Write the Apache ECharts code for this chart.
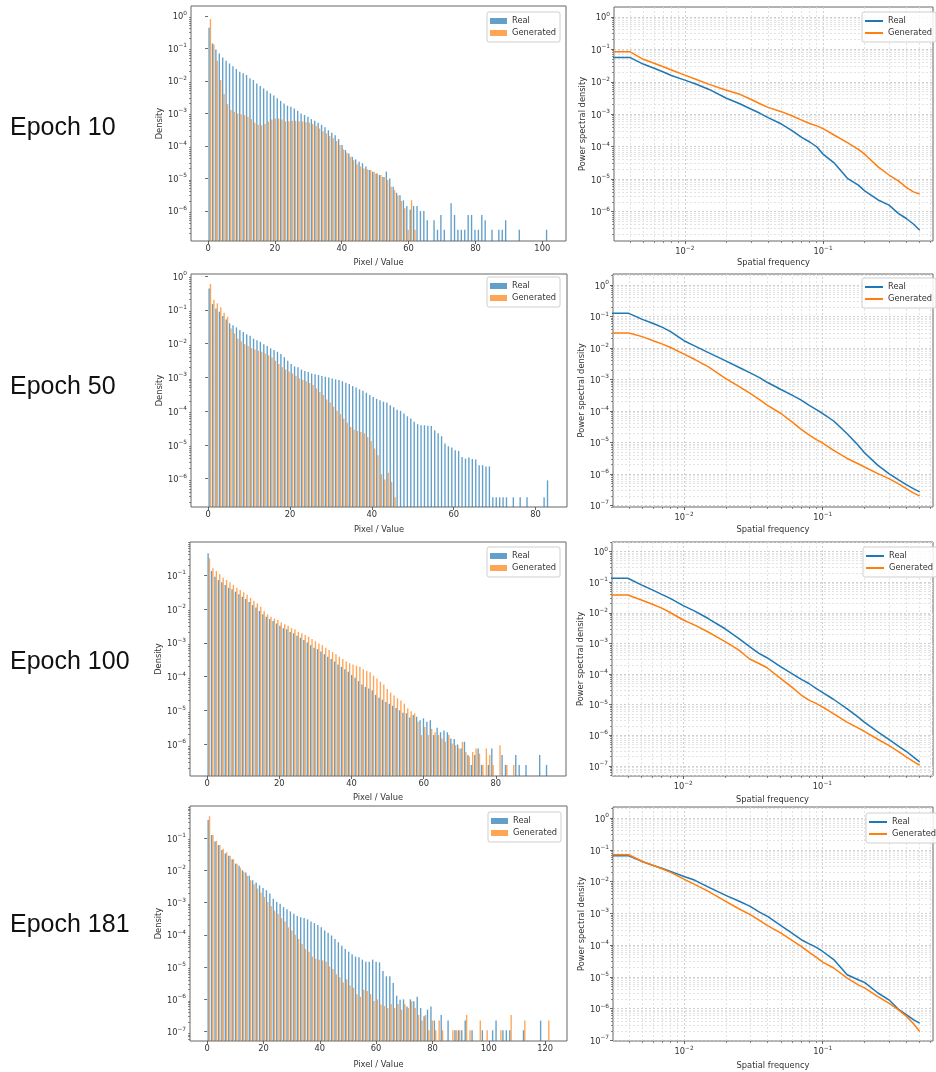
<!DOCTYPE html>
<html><head><meta charset="utf-8">
<script src="https://cdn.jsdelivr.net/npm/echarts@6/dist/echarts.min.js"></script>
<style>html,body{margin:0;padding:0;background:#fff}#c{width:936px;height:1072px}</style>
</head><body><div id="c"></div>
<script>
// ---------------- DATA ----------------
const epochLabels = ['Epoch 10', 'Epoch 50', 'Epoch 100', 'Epoch 181'];
const seriesNames = ['Real', 'Generated'];
// histogram: 100 bins starting at 0, upper edge of the binned range
const histRangeMax = [102, 83.5, 94.7, 121.7];
const histTicks = [[0, 20, 40, 60, 80, 100], [0, 20, 40, 60, 80], [0, 20, 40, 60, 80], [0, 20, 40, 60, 80, 100, 120]];

const histReal10 = [4.3e-1,1.4e-1,9.2e-2,6.9e-2,5.2e-2,4.1e-2,3.4e-2,2.8e-2,2.3e-2,1.9e-2,
 1.7e-2,1.5e-2,1.2e-2,1.05e-2,8.3e-3,6.9e-3,5.8e-3,4.9e-3,4.1e-3,3.5e-3,
 2.9e-3,2.4e-3,2.0e-3,1.7e-3,1.6e-3,1.4e-3,1.2e-3,9.8e-4,8.8e-4,7.8e-4,
 6.6e-4,5.9e-4,5.1e-4,4.4e-4,3.7e-4,3.0e-4,2.5e-4,2.1e-4,1.6e-4,1.05e-4,
 7.4e-5,5.8e-5,4.6e-5,3.8e-5,3.2e-5,2.9e-5,2.3e-5,1.8e-5,1.6e-5,1.4e-5,
 1.25e-5,1.1e-5,1.6e-5,9.8e-6,5.5e-6,3.6e-6,3.0e-6,2.1e-6,1.4e-6,1.1e-6,
 1.4e-6,1.4e-6,9.8e-7,9.8e-7,5.1e-7,0,5.1e-7,2.6e-7,7.4e-7,2.6e-7,
 0,1.7e-6,7.4e-7,2.6e-7,2.6e-7,2.6e-7,7.4e-7,7.4e-7,2.6e-7,2.6e-7,
 7.4e-7,5.1e-7,0,2.6e-7,0,2.6e-7,2.6e-7,5.1e-7,0,0,
 0,2.6e-7,0,0,0,0,0,0,0,2.6e-7];
const histGen10 = [7.9e-1,1.3e-1,4.1e-2,1.05e-2,3.9e-3,1.9e-3,1.25e-3,1.12e-3,9.9e-4,9.4e-4,
 8.8e-4,7.8e-4,6.6e-4,5.1e-4,4.4e-4,4.3e-4,4.7e-4,5.5e-4,6.4e-4,6.9e-4,
 6.9e-4,6.4e-4,5.6e-4,5.7e-4,5.9e-4,5.9e-4,5.7e-4,5.6e-4,5.3e-4,5.1e-4,
 4.7e-4,4.1e-4,3.4e-4,2.8e-4,2.4e-4,2.0e-4,1.7e-4,1.4e-4,1.05e-4,7.7e-5,
 6.1e-5,4.6e-5,3.6e-5,2.7e-5,2.3e-5,2.0e-5,1.9e-5,1.8e-5,1.6e-5,1.4e-5,
 1.25e-5,1.1e-5,8.8e-6,5.5e-6,4.3e-6,3.0e-6,2.0e-6,1.2e-6,2.6e-7,2.1e-6,
 2.6e-7,0,0,0,0,0,0,0,0,0,
 0,0,0,0,0,0,0,0,0,0,
 0,0,0,0,0,0,0,0,0,0,
 0,0,0,0,0,0,0,0,0,0];

const histReal50 = [0.43,0.148,0.11,0.088,0.065,0.052,0.040,0.035,0.030,0.025,
 0.022,0.019,0.017,0.014,0.0126,0.0113,0.0096,0.0084,0.0072,0.0064,
 0.0057,0.0049,0.0039,0.0031,0.0025,0.0021,0.0020,0.0017,0.00155,0.00145,
 0.0013,0.00124,0.00117,0.0011,0.00104,9.9e-4,9.3e-4,8.7e-4,8.3e-4,7.7e-4,
 6.9e-4,6.3e-4,5.5e-4,5.0e-4,4.4e-4,4.0e-4,3.5e-4,3.0e-4,2.6e-4,2.3e-4,
 2.1e-4,1.9e-4,1.8e-4,1.5e-4,1.3e-4,1.1e-4,1.02e-4,8.5e-5,7.0e-5,6.0e-5,
 4.8e-5,4.1e-5,3.8e-5,3.8e-5,3.7e-5,3.6e-5,2.7e-5,2.2e-5,1.8e-5,1.1e-5,
 9.1e-6,8.3e-6,6.9e-6,6.6e-6,4.4e-6,3.9e-6,4.2e-6,3.8e-6,3.7e-6,2.5e-6,
 2.5e-6,2.3e-6,2.3e-6,2.8e-7,2.8e-7,2.8e-7,2.8e-7,2.8e-7,0,2.8e-7,
 0,2.8e-7,0,2.8e-7,0,0,0,0,2.8e-7,8.9e-7];
const histGen50 = [0.58,0.20,0.155,0.118,0.082,0.062,0.028,0.020,0.0142,0.0118,
 0.0096,0.0084,0.0074,0.0067,0.0061,0.0057,0.0051,0.0045,0.0039,0.0031,
 0.0025,0.0020,0.0017,0.0015,0.0013,0.0011,9.3e-4,8.3e-4,7.6e-4,6.8e-4,
 5.9e-4,4.7e-4,3.7e-4,3.0e-4,2.2e-4,1.8e-4,1.35e-4,1.02e-4,8.1e-5,6.0e-5,
 4.5e-5,3.4e-5,2.8e-5,2.6e-5,2.4e-5,2.2e-5,1.7e-5,1.3e-5,7.8e-6,4.9e-6,
 1.35e-6,9.4e-7,1.5e-6,8.0e-7,2.8e-7,0,0,0,0,0,
 0,0,0,0,0,0,0,0,0,0,
 0,0,0,0,0,0,0,0,0,0,
 0,0,0,0,0,0,0,0,0,0,
 0,0,0,0,0,0,0,0,0,0];

const histReal100 = [0.44,0.131,0.089,0.071,0.061,0.051,0.042,0.038,0.032,0.027,
 0.023,0.0195,0.016,0.013,0.011,0.0087,0.0069,0.0059,0.0050,0.0044,
 0.0037,0.0032,0.0027,0.0025,0.0021,0.0019,0.00162,0.00141,0.0012,0.00102,
 8.5e-4,7.1e-4,6.5e-4,5.5e-4,4.6e-4,3.9e-4,3.3e-4,2.8e-4,2.3e-4,1.95e-4,
 1.66e-4,1.4e-4,1.12e-4,9.3e-5,7.4e-5,5.9e-5,5.0e-5,4.5e-5,4.0e-5,2.9e-5,
 2.4e-5,2.1e-5,1.8e-5,1.6e-5,1.4e-5,1.2e-5,1.02e-5,8.7e-6,8.3e-6,6.2e-6,
 7.4e-6,6.6e-6,5.2e-6,5.9e-6,4.7e-6,5.2e-6,1.9e-6,3.1e-6,2.3e-6,2.6e-6,
 2.3e-6,1.5e-6,1.45e-6,1.0e-6,7.6e-7,1.2e-6,4.9e-7,2.5e-7,4.9e-7,7.6e-7,
 2.5e-7,0,2.5e-7,7.6e-7,0,0,4.9e-7,2.5e-7,0,0,
 4.9e-7,2.5e-7,0,2.5e-7,0,0,0,4.9e-7,0,2.5e-7];
const histGen100 = [0.31,0.158,0.131,0.105,0.083,0.071,0.061,0.051,0.042,0.036,
 0.031,0.026,0.021,0.0175,0.0145,0.0116,0.0087,0.0069,0.0059,0.0052,
 0.0047,0.0040,0.0035,0.0032,0.0027,0.0025,0.0021,0.0019,0.0017,0.00151,
 0.00129,0.00112,9.6e-4,8.5e-4,7.1e-4,6.1e-4,5.3e-4,4.6e-4,3.9e-4,3.3e-4,
 2.8e-4,2.5e-4,2.3e-4,2.1e-4,1.95e-4,1.66e-4,1.47e-4,1.35e-4,1.07e-4,8.9e-5,
 7.1e-5,5.9e-5,4.3e-5,3.4e-5,2.8e-5,2.3e-5,2.0e-5,1.6e-5,1.15e-5,9.5e-6,
 8.3e-6,4.7e-6,1.9e-6,3.3e-6,1.9e-6,2.9e-6,2.3e-6,1.9e-6,1.5e-6,1.2e-6,
 1.9e-6,1.07e-6,9.5e-7,7.6e-7,1.2e-6,6.0e-7,4.4e-7,6.0e-7,7.6e-7,5.4e-7,
 2.5e-7,7.6e-7,4.9e-7,2.5e-7,0,9.5e-7,0,2.5e-7,0,2.5e-7,
 0,0,0,0,0,0,0,0,0,0];

const histReal181 = [0.36,0.123,0.077,0.060,0.042,0.033,0.028,0.022,0.016,0.0138,
 0.0100,0.0085,0.0067,0.0049,0.0042,0.0034,0.0028,0.0024,0.0019,0.00132,
 0.00103,9.1e-4,7.2e-4,6.2e-4,5.3e-4,4.5e-4,3.8e-4,3.5e-4,3.3e-4,3.0e-4,
 2.6e-4,2.3e-4,2.0e-4,1.7e-4,1.35e-4,1.15e-4,9.5e-5,7.4e-5,5.9e-5,4.6e-5,
 3.6e-5,3.0e-5,2.5e-5,2.1e-5,2.0e-5,1.7e-5,1.45e-5,1.45e-5,1.7e-5,1.45e-5,
 1.4e-5,7.6e-6,5.2e-6,5.2e-6,3.2e-6,1.3e-6,9.8e-7,1.0e-6,6.0e-7,1.0e-6,
 8.7e-7,1.2e-6,5.4e-7,3.0e-7,4.8e-7,6.0e-7,2.2e-7,0,3.3e-7,0,
 2.2e-7,0,1.1e-7,1.1e-7,1.1e-7,2.2e-7,0,1.1e-7,0,0,
 1.1e-7,0,0,1.1e-7,2.2e-7,0,1.1e-7,1.1e-7,1.1e-7,0,
 0,0,1.1e-7,0,0,0,0,2.2e-7,0,0];
const histGen181 = [0.47,0.123,0.081,0.060,0.046,0.036,0.028,0.022,0.016,0.0119,
 0.0089,0.0067,0.0049,0.0036,0.0027,0.0020,0.00149,0.00103,7.7e-4,5.6e-4,
 4.5e-4,3.3e-4,2.6e-4,1.7e-4,1.35e-4,1.0e-4,7.4e-5,5.2e-5,3.6e-5,3.0e-5,
 2.1e-5,1.8e-5,1.7e-5,1.6e-5,1.45e-5,1.05e-5,8.7e-6,6.0e-6,4.8e-6,3.3e-6,
 4.2e-6,2.7e-6,2.3e-6,1.45e-6,1.2e-6,2.0e-6,1.8e-6,1.45e-6,8.9e-7,1.0e-6,
 6.9e-7,6.2e-7,5.4e-7,7.2e-7,5.4e-7,7.2e-7,4.8e-7,7.2e-7,5.4e-7,8.7e-7,
 5.4e-7,3.3e-7,2.2e-7,3.3e-7,1.1e-7,2.2e-7,1.1e-7,2.2e-7,1.1e-7,0,
 0,1.1e-7,1.1e-7,1.1e-7,0,3.3e-7,1.1e-7,0,0,2.2e-7,
 0,1.1e-7,0,0,0,1.1e-7,0,0,3.3e-7,0,
 0,0,2.2e-7,0,0,0,0,0,0,2.2e-7];

// power spectral density curves
const psdFreq = [0.003,0.004,0.005,0.006,0.007,0.008,0.01,0.012,0.015,0.02,
 0.025,0.03,0.035,0.04,0.05,0.06,0.07,0.08,0.09,0.1,
 0.12,0.15,0.18,0.2,0.25,0.3,0.35,0.4,0.45,0.5];
const psdReal10 = [0.056,0.056,0.035,0.026,0.020,0.0156,0.0112,0.0085,0.0058,0.0031,
 0.0021,0.00145,0.00107,7.9e-4,5.0e-4,3.1e-4,1.95e-4,1.4e-4,1.0e-4,5.9e-5,
 3.2e-5,1.07e-5,6.6e-6,4.4e-6,2.3e-6,1.6e-6,8.9e-7,6.2e-7,4.2e-7,2.7e-7];
const psdGen10 = [0.084,0.084,0.049,0.037,0.029,0.023,0.016,0.012,0.0083,0.0055,
 0.0041,0.0029,0.0021,0.00163,0.0012,8.8e-4,6.6e-4,5.2e-4,4.4e-4,3.6e-4,
 2.3e-4,1.33e-4,8.3e-5,5.9e-5,2.4e-5,1.35e-5,8.9e-6,5.6e-6,4.1e-6,3.5e-6];
const psdReal50 = [0.126,0.126,0.081,0.060,0.045,0.033,0.017,0.0115,0.0071,0.0039,
 0.0024,0.00162,0.00115,8.0e-4,4.8e-4,3.2e-4,2.2e-4,1.5e-4,1.1e-4,8.3e-5,
 4.8e-5,1.9e-5,8.1e-6,4.7e-6,1.87e-6,1.02e-6,6.6e-7,4.6e-7,3.4e-7,2.7e-7];
const psdGen50 = [0.030,0.030,0.023,0.017,0.0133,0.0104,0.0064,0.0043,0.0025,0.00107,
 5.9e-4,3.6e-4,2.3e-4,1.5e-4,8.3e-5,4.5e-5,2.6e-5,1.7e-5,1.23e-5,9.6e-6,
 5.6e-6,3.1e-6,2.1e-6,1.66e-6,1.02e-6,7.1e-7,4.9e-7,3.4e-7,2.5e-7,2.0e-7];
const psdReal100 = [0.134,0.134,0.081,0.056,0.040,0.030,0.017,0.0115,0.0066,0.0030,
 0.00146,7.8e-4,4.7e-4,3.4e-4,1.73e-4,1.05e-4,6.8e-5,4.9e-5,3.4e-5,2.5e-5,
 1.5e-5,7.4e-6,4.0e-6,2.7e-6,1.29e-6,7.4e-7,4.5e-7,3.0e-7,1.96e-7,1.35e-7];
const psdGen100 = [0.038,0.038,0.026,0.019,0.0141,0.0104,0.0058,0.0040,0.0024,0.00114,
 6.1e-4,3.1e-4,2.2e-4,1.6e-4,7.2e-5,3.8e-5,2.1e-5,1.4e-5,1.1e-5,8.5e-6,
 5.1e-6,2.7e-6,1.74e-6,1.35e-6,7.4e-7,4.7e-7,3.0e-7,1.96e-7,1.4e-7,1.05e-7];
const psdReal181 = [0.065,0.065,0.043,0.032,0.026,0.021,0.0145,0.011,0.0067,0.0037,
 0.0024,0.00166,0.0011,8.0e-4,4.1e-4,2.4e-4,1.48e-4,1.1e-4,8.5e-5,6.3e-5,
 3.5e-5,1.17e-5,8.1e-6,6.7e-6,3.1e-6,1.9e-6,9.7e-7,6.5e-7,4.5e-7,3.5e-7];
const psdGen181 = [0.070,0.070,0.043,0.032,0.025,0.0195,0.012,0.0080,0.0049,0.0024,
 0.00137,9.1e-4,6.0e-4,4.1e-4,2.4e-4,1.41e-4,9.1e-5,5.9e-5,4.1e-5,2.9e-5,
 1.9e-5,9.1e-6,5.6e-6,4.5e-6,2.4e-6,1.5e-6,9.3e-7,5.8e-7,3.4e-7,1.9e-7];

const histRealAll = [histReal10, histReal50, histReal100, histReal181];
const histGenAll = [histGen10, histGen50, histGen100, histGen181];
const psdRealAll = [psdReal10, psdReal50, psdReal100, psdReal181];
const psdGenAll = [psdGen10, psdGen50, psdGen100, psdGen181];

// ---------------- LAYOUT / STYLE ----------------
const histGrids = [
  {left:191, top:6, width:375, height:235},
  {left:191, top:274, width:376, height:233},
  {left:190, top:542, width:376, height:234},
  {left:190, top:806, width:377, height:235}];
const psdGrids = [
  {left:614, top:7, width:327, height:234},
  {left:613, top:274, width:328, height:233},
  {left:612, top:542, width:329, height:234},
  {left:613, top:807, width:328, height:234}];
const histXLim = [[-5.1,107.1],[-4.175,87.675],[-4.735,99.435],[-6.085,127.785]];
const histYExp = [[-6.93,0.30],[-6.84,0.06],[-6.93,-0.026],[-7.29,-0.01]];
const psdXExp = [-2.512,-0.205];
const psdYExp = [[-6.9,0.3],[-7.05,0.35],[-7.33,0.31],[-7.02,0.35]];
const histXNameGap = [18, 19, 18, 20];
const psdXNameGap = [18, 19, 20, 21];
const histLegendPos = [[487,12],[487,277],[487,547],[488,812]];
const psdLegendPos = [[862,12],[862,278],[863,547],[866,813]];
const epochTop = [116, 375, 650, 913];

const C_BLUE = '#1f77b4', C_ORANGE = '#ff7f0e';
const C_BLUE_A = 'rgba(31,119,180,0.7)', C_ORANGE_A = 'rgba(255,127,14,0.7)';
const FONT = 'DejaVu Sans';
const TXT = '#333';
const TICK = '#444';
const FS = 8.3;

const richLog = {
  b: {fontSize: FS, fontFamily: FONT, color: TXT, lineHeight: 11, verticalAlign: 'bottom'},
  s: {fontSize: 5.8, fontFamily: FONT, color: TXT, lineHeight: 8, verticalAlign: 'top'}
};
function logFormatter(v) {
  const e = Math.log10(v), r = Math.round(e);
  if (Math.abs(e - r) > 1e-6) return '';
  return '{b|10}{s|' + (r === 0 ? '0' : '\u2212' + (-r)) + '}';
}
// decade tick positions of a log axis: major (1*10^k) and minor (2..9*10^k) inside [lo, hi] exponents
function logTicks(lo, hi, major) {
  const out = [];
  for (let k = Math.floor(lo); k <= Math.ceil(hi); k++) {
    for (let m = 1; m <= 9; m++) {
      if ((m === 1) !== major) continue;
      const v = m * Math.pow(10, k), e = Math.log10(v);
      if (e >= lo - 1e-9 && e <= hi + 1e-9) out.push(v);
    }
  }
  return out;
}

const grids = [], xAxes = [], yAxes = [], series = [], legends = [], titles = [];
const extraX = [], extraY = [];

for (let p = 0; p < 4; p++) {
  const gH = 2 * p, gP = 2 * p + 1;
  grids.push(Object.assign({show:true, borderColor:'#666', borderWidth:1, backgroundColor:'#fff', containLabel:false}, histGrids[p]));
  grids.push(Object.assign({show:true, borderColor:'#666', borderWidth:1, backgroundColor:'#fff', containLabel:false}, psdGrids[p]));

  const hyMin = Math.pow(10,histYExp[p][0]), hyMax = Math.pow(10,histYExp[p][1]);
  const pxMin = Math.pow(10,psdXExp[0]), pxMax = Math.pow(10,psdXExp[1]);
  const pyMin = Math.pow(10,psdYExp[p][0]), pyMax = Math.pow(10,psdYExp[p][1]);

  // histogram axes
  xAxes.push({type:'value', gridIndex:gH, min:histXLim[p][0], max:histXLim[p][1],
    name:'Pixel / Value', nameLocation:'middle', nameGap:histXNameGap[p],
    nameTextStyle:{fontSize:FS, fontFamily:FONT, color:TXT},
    axisLine:{show:false}, splitLine:{show:false},
    axisTick:{show:true, length:3, lineStyle:{color:TICK, width:0.8}, customValues: histTicks[p]},
    axisLabel:{fontSize:FS, fontFamily:FONT, color:TXT, margin:4, customValues: histTicks[p]}});
  yAxes.push({type:'log', logBase:10, gridIndex:gH, position:'left', min:hyMin, max:hyMax,
    name:'Density', nameLocation:'middle', nameGap:27,
    nameTextStyle:{fontSize:FS, fontFamily:FONT, color:TXT},
    axisLine:{show:false}, splitLine:{show:false},
    axisTick:{show:true, length:3, lineStyle:{color:TICK, width:0.8}, customValues: logTicks(histYExp[p][0], histYExp[p][1], true)},
    axisLabel:{formatter:logFormatter, rich:richLog, margin:4}});
  extraY.push({type:'log', logBase:10, gridIndex:gH, position:'left', offset:0, min:hyMin, max:hyMax,
    axisLine:{show:false}, splitLine:{show:false}, axisLabel:{show:false},
    axisTick:{show:true, length:2, lineStyle:{color:TICK, width:0.6}, customValues: logTicks(histYExp[p][0], histYExp[p][1], false)}});

  // psd axes
  xAxes.push({type:'log', logBase:10, gridIndex:gP, position:'bottom', min:pxMin, max:pxMax,
    name:'Spatial frequency', nameLocation:'middle', nameGap:psdXNameGap[p],
    nameTextStyle:{fontSize:FS, fontFamily:FONT, color:TXT},
    axisLine:{show:false}, splitLine:{show:false},
    axisTick:{show:true, length:3, lineStyle:{color:TICK, width:0.8}, customValues: logTicks(psdXExp[0], psdXExp[1], true)},
    axisLabel:{formatter:logFormatter, rich:richLog, margin:4}});
  yAxes.push({type:'log', logBase:10, gridIndex:gP, position:'left', min:pyMin, max:pyMax,
    name:'Power spectral density', nameLocation:'middle', nameGap:27,
    nameTextStyle:{fontSize:FS, fontFamily:FONT, color:TXT},
    axisLine:{show:false}, splitLine:{show:false},
    axisTick:{show:true, length:3, lineStyle:{color:TICK, width:0.8}, customValues: logTicks(psdYExp[p][0], psdYExp[p][1], true)},
    axisLabel:{formatter:logFormatter, rich:richLog, margin:4}});
  extraX.push({type:'log', logBase:10, gridIndex:gP, position:'bottom', offset:0, min:pxMin, max:pxMax,
    axisLine:{show:false}, splitLine:{show:false}, axisLabel:{show:false},
    axisTick:{show:true, length:2, lineStyle:{color:TICK, width:0.6}, customValues: logTicks(psdXExp[0], psdXExp[1], false)}});
  extraY.push({type:'log', logBase:10, gridIndex:gP, position:'left', offset:0, min:pyMin, max:pyMax,
    axisLine:{show:false}, splitLine:{show:false}, axisLabel:{show:false},
    axisTick:{show:true, length:2, lineStyle:{color:TICK, width:0.6}, customValues: logTicks(psdYExp[p][0], psdYExp[p][1], false)}});

  // histogram bars (side-by-side, 100 bins)
  const binW = histRangeMax[p] / 100;
  const yBase = hyMin;
  [[histRealAll[p], 0.3, C_BLUE_A, seriesNames[0]], [histGenAll[p], 0.7, C_ORANGE_A, seriesNames[1]]].forEach(([vals, frac, col, nm]) => {
    const data = [];
    vals.forEach((v, i) => { if (v > 0) data.push([(i + frac) * binW, v]); });
    series.push({
      type:'custom', name:nm, xAxisIndex:gH, yAxisIndex:gH, clip:true, silent:true, animation:false,
      itemStyle:{color:col}, encode:{x:0, y:1}, z:2,
      renderItem: function (params, api) {
        const x = api.value(0), y = api.value(1);
        const a = api.coord([x - 0.2 * binW, y]);
        const b = api.coord([x + 0.2 * binW, yBase]);
        return {type:'rect', shape:{x:a[0], y:a[1], width:b[0]-a[0], height:b[1]-a[1]}, style:{fill:col}};
      },
      data
    });
  });

  // psd grid lines (major + minor) drawn through the log axes
  const vx = [], vy = [];
  logTicks(psdXExp[0] + 0.005, psdXExp[1] - 0.005, true).forEach(v => vx.push({xAxis:v, lineStyle:{color:'#c4c4c4'}}));
  logTicks(psdXExp[0] + 0.005, psdXExp[1] - 0.005, false).forEach(v => vx.push({xAxis:v}));
  logTicks(psdYExp[p][0] + 0.005, psdYExp[p][1] - 0.005, true).forEach(v => vy.push({yAxis:v, lineStyle:{color:'#c4c4c4'}}));
  logTicks(psdYExp[p][0] + 0.005, psdYExp[p][1] - 0.005, false).forEach(v => vy.push({yAxis:v}));
  series.push({type:'line', name:'', xAxisIndex:gP, yAxisIndex:gP, data:[], silent:true, z:1,
    markLine:{silent:true, symbol:['none','none'], animation:false, z:1, precision:12, label:{show:false},
      lineStyle:{type:[2,2], width:0.8, color:'#dcdcdc'}, emphasis:{disabled:true},
      data: vx.concat(vy)}});

  // psd curves
  [[psdRealAll[p], C_BLUE, seriesNames[0]], [psdGenAll[p], C_ORANGE, seriesNames[1]]].forEach(([vals, col, nm]) => {
    series.push({type:'line', name:nm, xAxisIndex:gP, yAxisIndex:gP, showSymbol:false, symbol:'none',
      clip:true, silent:true, animation:false, z:3,
      lineStyle:{color:col, width:1.5}, itemStyle:{color:col},
      data: psdFreq.map((f, i) => [f, vals[i]])});
  });

  // legends
  const legBase = {orient:'vertical', selectedMode:false, itemGap:2, padding:[4,4,4,3],
    borderColor:'#cfcfcf', borderWidth:1, borderRadius:2, backgroundColor:'rgba(255,255,255,0.85)',
    textStyle:{fontSize:FS, fontFamily:FONT, color:TXT, lineHeight:10}};
  legends.push(Object.assign({}, legBase, {left:histLegendPos[p][0], top:histLegendPos[p][1],
    itemWidth:17, itemHeight:6,
    data:[{name:seriesNames[0], icon:'rect', itemStyle:{color:C_BLUE_A}}, {name:seriesNames[1], icon:'rect', itemStyle:{color:C_ORANGE_A}}]}));
  legends.push(Object.assign({}, legBase, {left:psdLegendPos[p][0], top:psdLegendPos[p][1],
    itemWidth:18, itemHeight:2,
    data:[{name:seriesNames[0], icon:'rect', itemStyle:{color:C_BLUE}}, {name:seriesNames[1], icon:'rect', itemStyle:{color:C_ORANGE}}]}));

  titles.push({text:epochLabels[p], left:10, top:epochTop[p], padding:0,
    textStyle:{fontSize:25, fontWeight:'normal', fontFamily:'Liberation Sans, Arial, Helvetica, sans-serif', color:'#111'}});
}

const chart = echarts.init(document.getElementById('c'), null, {renderer:'canvas'});
chart.setOption({
  animation:false,
  backgroundColor:'#fff',
  title:titles,
  legend:legends,
  grid:grids,
  xAxis:xAxes.concat(extraX),
  yAxis:yAxes.concat(extraY),
  series:series
});
</script>
</body></html>
